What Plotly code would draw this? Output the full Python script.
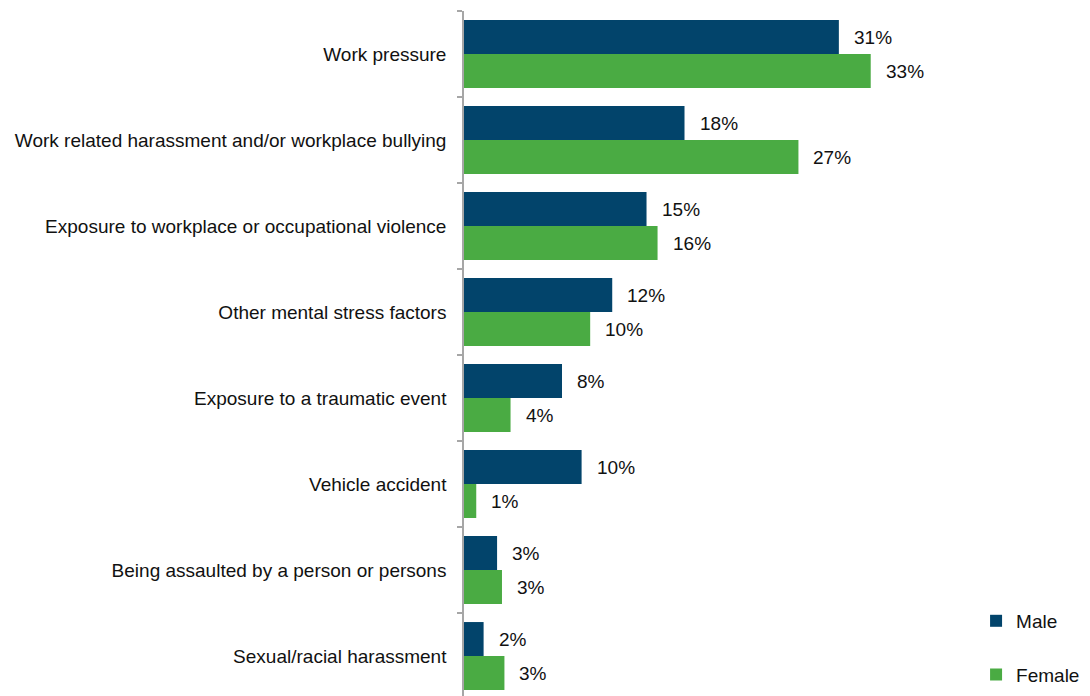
import plotly.graph_objects as go

categories = [
    "Work pressure",
    "Work related harassment and/or workplace bullying",
    "Exposure to workplace or occupational violence",
    "Other mental stress factors",
    "Exposure to a traumatic event",
    "Vehicle accident",
    "Being assaulted by a person or persons",
    "Sexual/racial harassment",
]
male_values = [30.6, 18.0, 14.9, 12.1, 8.0, 9.6, 2.7, 1.6]
female_values = [33.2, 27.3, 15.8, 10.3, 3.8, 1.0, 3.1, 3.3]
male_labels = ["31%", "18%", "15%", "12%", "8%", "10%", "3%", "2%"]
female_labels = ["33%", "27%", "16%", "10%", "4%", "1%", "3%", "3%"]

MALE_COLOR = "#02446b"
FEMALE_COLOR = "#4aab43"
FONT = "Liberation Sans, Arial, sans-serif"
FS = 19

fig = go.Figure()
fig.add_trace(go.Bar(
    name="Male", y=categories, x=male_values, orientation="h",
    marker=dict(color=MALE_COLOR, line=dict(width=0)),
    legendgroup="m", hoverinfo="skip",
))
fig.add_trace(go.Bar(
    name="Female", y=categories, x=female_values, orientation="h",
    marker=dict(color=FEMALE_COLOR, line=dict(width=0)),
    legendgroup="f", hoverinfo="skip",
))

for cat, v, t in zip(categories, male_values, male_labels):
    fig.add_annotation(x=v, y=cat, text=t, showarrow=False, xanchor="left",
                       xshift=13, yshift=17, font=dict(family=FONT, size=FS, color="#111"))
for cat, v, t in zip(categories, female_values, female_labels):
    fig.add_annotation(x=v, y=cat, text=t, showarrow=False, xanchor="left",
                       xshift=13, yshift=-17, font=dict(family=FONT, size=FS, color="#111"))

fig.update_layout(
    width=1082, height=688,
    margin=dict(l=456, r=0, t=3, b=0, autoexpand=False),
    paper_bgcolor="white", plot_bgcolor="white",
    barmode="group", bargap=0.21, bargroupgap=0,
    font=dict(family=FONT, size=FS, color="#111"),
    showlegend=True,
    legend=dict(
        x=0.818, y=0.003, xanchor="left", yanchor="bottom",
        traceorder="grouped", tracegroupgap=26,
        font=dict(family=FONT, size=FS, color="#111"),
        bgcolor="rgba(0,0,0,0)", itemwidth=30,
    ),
    xaxis=dict(range=[0, 51.1], visible=False, showgrid=False, zeroline=False),
    yaxis=dict(
        range=[7.465, -0.5], showgrid=False, zeroline=False,
        showline=True, linecolor="#a6a6a6", linewidth=1.5,
        ticks="outside", tickson="boundaries", ticklen=5,
        tickcolor="#a6a6a6", tickwidth=1.5, ticklabelstandoff=12,
        tickfont=dict(family=FONT, size=FS, color="#111"),
        automargin=False,
    ),
)

fig.write_html("out.html")
